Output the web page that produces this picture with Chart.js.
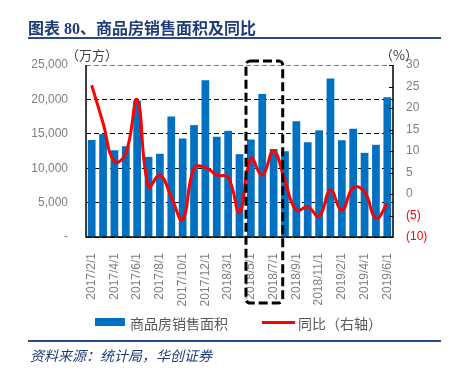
<!DOCTYPE html>
<html>
<head>
<meta charset="utf-8">
<script src="https://cdn.jsdelivr.net/npm/chart.js@4.4.1/dist/chart.umd.min.js"></script>
<style>
  body { margin: 0; background: #fff; }
  #wrap { position: relative; width: 451px; height: 369px; overflow: hidden; }
  #chart { position: absolute; left: 0; top: 0; }
  .txt { position: absolute; white-space: nowrap; }
  .title { left: 28px; top: 15px; line-height: 20px; font: bold 16px "Liberation Serif", "Noto Sans CJK SC", serif; color: #1f3c78; }
  .rule { position: absolute; left: 28px; width: 413px; height: 2px; background: #2a4b8a; }
  .unit { top: 45px; line-height: 16px; font: 13px "Noto Sans CJK SC", sans-serif; color: #404040; }
  .legend { top: 313px; line-height: 18px; font: 14px "Noto Sans CJK SC", sans-serif; color: #595959; }
  .source { left: 30px; top: 345px; line-height: 18px; font: italic 14px "Noto Sans CJK SC", sans-serif; color: #1f3c78; }
</style>
</head>
<body>
<div id="wrap">
  <canvas id="chart" width="451" height="369"></canvas>
  <div class="txt title">图表 80、商品房销售面积及同比</div>
  <div class="rule" style="top:37px"></div>
  <div class="txt unit" style="left:66px">（万方）</div>
  <div class="txt unit" style="left:380px">（%）</div>
  <div style="position:absolute;left:95px;top:318px;width:30px;height:8px;background:#0070c0"></div>
  <div class="txt legend" style="left:130px">商品房销售面积</div>
  <div style="position:absolute;left:262px;top:321px;width:33px;height:3px;background:#ff0000"></div>
  <div class="txt legend" style="left:298px">同比（右轴）</div>
  <div class="rule" style="top:340px"></div>
  <div class="txt source">资料来源：统计局，华创证券</div>
</div>
<script>
const categories = ['2017/2/1', '2017/3/1', '2017/4/1', '2017/5/1', '2017/6/1', '2017/7/1', '2017/8/1',
  '2017/9/1', '2017/10/1', '2017/11/1', '2017/12/1', '2018/2/1', '2018/3/1', '2018/4/1', '2018/5/1',
  '2018/6/1', '2018/7/1', '2018/8/1', '2018/9/1', '2018/10/1', '2018/11/1', '2018/12/1', '2019/2/1',
  '2019/3/1', '2019/4/1', '2019/5/1', '2019/6/1'];
const salesArea = [14100, 14950, 12600, 13200, 19800, 11650, 12100, 17500, 14300, 16260, 22800, 14560,
  15430, 12040, 14170, 20770, 12800, 12470, 16840, 13780, 15500, 23050, 14070, 15720, 12230, 13400, 20300];
const yoyGrowth = [25.3, 16.5, 7.5, 9.5, 21.9, 1.7, 4.4, -0.7, -6.0, 6.0, 6.2, 4.4,
  3.9, -4.2, 8.3, 4.4, 10.0, 3.0, -3.8, -3.0, -5.2, 0.9, -3.8, 1.5, 0.5, -5.7, -2.2];
const leftTicks = [0, 5000, 10000, 15000, 20000, 25000];
const rightTicks = [-10, -5, 0, 5, 10, 15, 20, 25, 30];
const highlight = ['2018/5/1', '2018/7/1'];

const GRAY = '#7f7f7f';
const tickFont = { family: '"Liberation Sans", Arial, sans-serif', size: 12 };

// axis lines, inner ticks on the right axis, dashed highlight box
const extras = {
  id: 'extras',
  afterDatasetsDraw(chart) {
    const { ctx, chartArea: a, scales } = chart;
    ctx.save();
    ctx.strokeStyle = '#000';
    ctx.lineWidth = 1.5;
    ctx.beginPath();
    ctx.moveTo(a.left, a.top); ctx.lineTo(a.left, a.bottom); ctx.lineTo(a.right, a.bottom); ctx.lineTo(a.right, a.top);
    ctx.stroke();
    ctx.lineWidth = 1;
    rightTicks.forEach(v => {
      const y = Math.round(scales.y2.getPixelForValue(v)) + 0.5;
      ctx.beginPath(); ctx.moveTo(a.right - 4, y); ctx.lineTo(a.right, y); ctx.stroke();
    });
    ctx.restore();
  },
  afterDraw(chart) {
    const { ctx, chartArea: a, scales } = chart;
    const x = scales.x;
    const step = x.getPixelForValue(1) - x.getPixelForValue(0);
    const l = x.getPixelForValue(categories.indexOf(highlight[0])) - step * 0.43;
    const r = x.getPixelForValue(categories.indexOf(highlight[1])) + step * 0.8;
    const t = a.top - 4, b = a.bottom + 66;
    ctx.save();
    ctx.strokeStyle = '#000';
    ctx.lineWidth = 3;
    ctx.setLineDash([9, 4]);
    ctx.beginPath();
    ctx.roundRect(l, t, r - l, b - t, 4);
    ctx.stroke();
    ctx.restore();
  }
};

new Chart(document.getElementById('chart'), {
  data: {
    labels: categories,
    datasets: [{
      type: 'line',
      label: '同比（右轴）',
      data: yoyGrowth,
      yAxisID: 'y2',
      borderColor: '#ff0000',
      borderWidth: 3,
      pointRadius: 0,
      tension: 0.45,
      order: 0
    }, {
      type: 'bar',
      label: '商品房销售面积',
      data: salesArea,
      yAxisID: 'y',
      backgroundColor: '#0070c0',
      categoryPercentage: 1,
      barPercentage: 0.68,
      order: 1
    }]
  },
  options: {
    responsive: false,
    animation: false,
    layout: { padding: { top: 65, left: 0, right: 0, bottom: 0 } },
    plugins: { legend: { display: false }, tooltip: { enabled: false } },
    scales: {
      x: {
        grid: { display: false },
        border: { display: false },
        ticks: {
          autoSkip: false,
          minRotation: 90,
          maxRotation: 90,
          padding: 8,
          color: GRAY,
          font: tickFont,
          callback: (v, i) => (i % 2 === 0 ? categories[i] : '')
        },
        afterFit(scale) { scale.height = 132; }
      },
      y: {
        position: 'left',
        min: 0,
        max: 25000,
        afterBuildTicks(scale) { scale.ticks = leftTicks.map(v => ({ value: v })); },
        grid: {
          color: c => (c.tick && c.tick.value === 25000 ? '#808080' : '#000'),
          lineWidth: 1,
          drawTicks: false
        },
        border: { display: false, dash: [5, 3] },
        ticks: {
          padding: 18,
          color: GRAY,
          font: tickFont,
          callback: v => (v === 0 ? '-' : v.toLocaleString('en-US'))
        },
        afterFit(scale) { scale.width = 86; }
      },
      y2: {
        position: 'right',
        min: -10,
        max: 30,
        afterBuildTicks(scale) { scale.ticks = rightTicks.map(v => ({ value: v })); },
        grid: { drawOnChartArea: false, drawTicks: false },
        border: { display: false },
        ticks: {
          padding: 13,
          font: tickFont,
          color: c => (c.tick && c.tick.value < 0 ? '#ff0000' : GRAY),
          callback: v => (v < 0 ? '(' + (-v) + ')' : String(v))
        },
        afterFit(scale) { scale.width = 58; }
      }
    }
  },
  plugins: [extras]
});
</script>
</body>
</html>
